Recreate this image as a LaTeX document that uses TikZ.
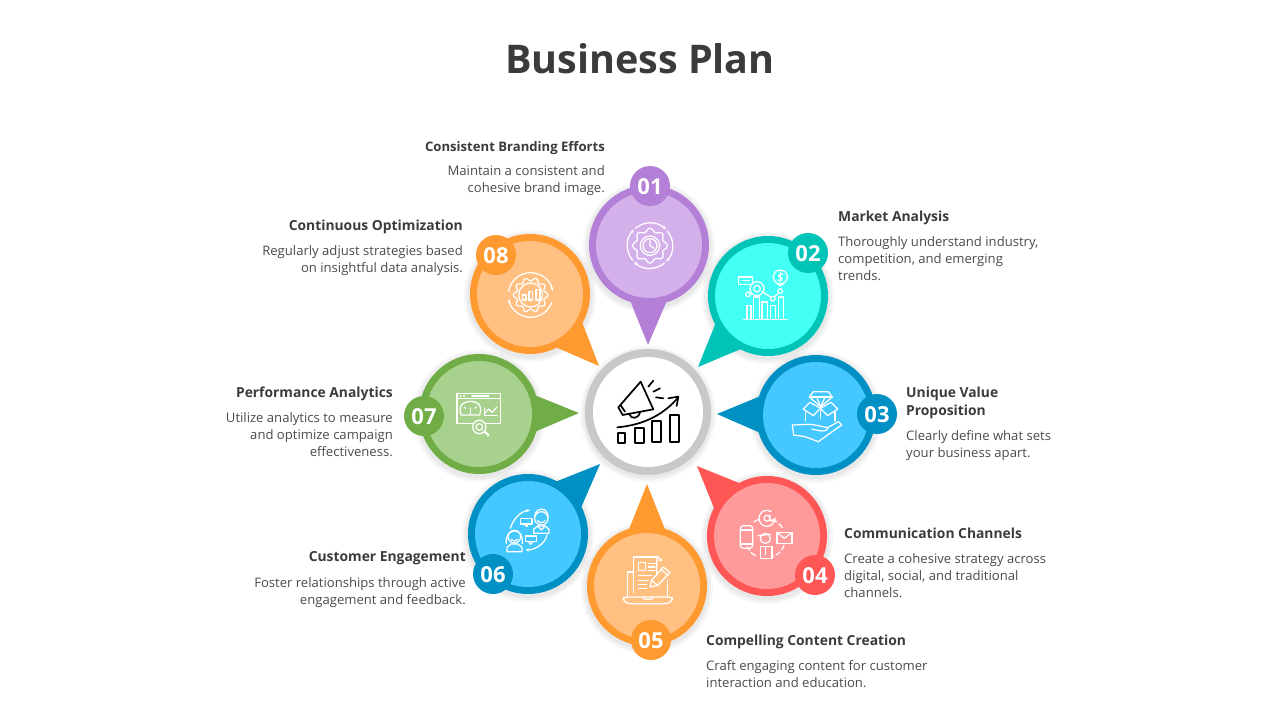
\documentclass[tikz,border=0pt]{standalone}
\usepackage{fontspec}
\setmainfont{Open Sans}
\usetikzlibrary{calc,arrows.meta}
\definecolor{inkgray}{HTML}{3B3B3B}
\definecolor{bodygray}{HTML}{4A4A4A}
\definecolor{purplering}{HTML}{B47FD6}
\definecolor{purplefill}{HTML}{D4B0EA}
\definecolor{tealring}{HTML}{00C4B8}
\definecolor{tealfill}{HTML}{44FFF5}
\definecolor{bluering}{HTML}{0090C4}
\definecolor{bluefill}{HTML}{45C8FF}
\definecolor{redring}{HTML}{FF5656}
\definecolor{redfill}{HTML}{FF9A9A}
\definecolor{orangering}{HTML}{FF9A30}
\definecolor{orangefill}{HTML}{FFC081}
\definecolor{greenring}{HTML}{70AD47}
\definecolor{greenfill}{HTML}{A9D18E}
\definecolor{hubring}{HTML}{C8C8C8}
\tikzset{
	numbadge/.style={circle,minimum size=40pt,inner sep=0pt,text height=17.7pt,text=white,font=\fontsize{22}{22}\selectfont\bfseries},
	headtext/.style={text=inkgray,font=\fontsize{13.85}{18}\selectfont\bfseries,inner sep=0pt},
	bodytext/.style={text=bodygray,font=\fontsize{13.1}{17}\selectfont,inner sep=0pt},
	iconat/.style={shift={#1},x=0.3333pt,y=-0.3333pt,white,line width=1.25pt,line cap=round,line join=round},
	hubpen/.style={shift={#1},x=0.3333pt,y=-0.3333pt,black,line width=1.7pt,line cap=round,line join=round},
}
\def\petal[#1,#2](#3)(#4){
	\coordinate (ctr) at (#3);
	\coordinate (tp) at (#4);
	\foreach \rr in {66,64,62} \fill[black,opacity=.03] ($(ctr)+(0,2)$) circle (\rr);
	\fill[#1] (tp) -- ($(ctr)!59pt!18:(tp)$) -- ($(ctr)!59pt!-18:(tp)$) -- cycle;
	\fill[#1] (ctr) circle (60);
	\fill[#2] (ctr) circle (53);
}
\def\ringarc[#1](#2)(#3:#4:#5){\draw[#1] ($(#2)+(#3:#5)$) arc (#3:#4:#5);}
\def\gearline(#1,#2)(#3)(#4)(#5){\draw[domain=0:360,samples=181,variable=\t] plot ({#1+(#3+#4*cos(#5*\t))*cos(\t)},{#2+(#3+#4*cos(#5*\t))*sin(\t)}) -- cycle;}
\begin{document}
\begin{tikzpicture}[x=1pt,y=-1pt]
	\useasboundingbox (0,0) rectangle (1280,720);
	
	%%%%% TITLE %%%%%
	\node[text=inkgray,font=\fontsize{39.5}{40}\selectfont\bfseries] (title) at (640,58.5) {Business Plan};
	
	%%%%% PETALS %%%%%
	\petal[purplering,purplefill](649,245)(648,345);
	\petal[tealring,tealfill](768,296)(698,367);
	\petal[bluering,bluefill](816,415)(717,414);
	\petal[redring,redfill](767,536)(697,466);
	\petal[orangering,orangefill](647,586)(647,484);
	\petal[bluering,bluefill](528,534)(600,464);
	\petal[greenring,greenfill](479,414)(579,413);
	\petal[orangering,orangefill](530,294)(599,366);
	
	%%%%% HUB %%%%%
	\foreach \rr in {68,66,64} \fill[black,opacity=.03] (648,414) circle (\rr);
	\fill[hubring] (648,412) circle (63);
	\fill[white] (648,412) circle (55);
	\begin{scope}[hubpen={(570,340)}]
		\draw (143,280) rectangle (165,308);
		\draw (195,265) rectangle (222,308);
		\draw (247,243) rectangle (274,307);
		\draw (300,225) rectangle (327,307);
		\draw (142,262) .. controls (220,255) and (280,225) .. (325,172);
		\draw (295,175) -- (325,170) -- (320,198);
		\draw (145,202) -- (212,125) -- (250,208) -- (158,225) -- cycle;
		\draw (152,196) -- (165,215);
		\draw (178,222) .. controls (182,238) and (205,238) .. (210,217);
		\draw (235,140) -- (250,122);
		\draw (250,155) -- (270,145);
		\draw (258,172) -- (280,175);
	\end{scope}
	
	%%%%% ICONS %%%%%
	\begin{scope}[iconat={(620,215)}]
		\ringarc[-{Stealth[length=4pt]}](90,92)(230:315:68);
		\ringarc[-{Stealth[length=4pt]}](90,92)(320:405:68);
		\ringarc[-{Stealth[length=4pt]}](90,92)(50:135:68);
		\ringarc[-{Stealth[length=4pt]}](90,92)(140:225:68);
		\gearline(90,92)(47)(5)(8);
		\draw (90,92) circle (29);
		\draw (90,92) circle (21);
		\draw (90,76) -- (90,92) -- (102,100);
	\end{scope}
	
	\begin{scope}[iconat={(732,262)}]
		\draw (20,45) rectangle (62,67);
		\draw (30,56) -- (52,56);
		\draw (75,80) circle (21);
		\draw (75,80) circle (10);
		\draw (48,97) circle (7);
		\draw (55,97) -- (60,95);
		\draw (90,88) -- (118,107);
		\draw (122,110) circle (7);
		\draw (127,105) -- (140,92);
		\draw (145,87) circle (7);
		\draw (145,45) circle (21);
		\draw (135,64) -- (145,72) -- (155,64);
		\draw (152,37) .. controls (140,32) and (136,44) .. (145,46) .. controls (154,48) and (150,60) .. (138,54);
		\draw (145,30) -- (145,60);
		\draw (35,172) -- (165,172);
		\draw (45,172) |- (57,130) -- (57,172);
		\draw (65,172) |- (82,105) -- (82,172);
		\draw (90,172) |- (107,120) -- (107,172);
		\draw (115,172) |- (130,130) -- (130,172);
		\draw (140,172) |- (155,105) -- (155,172);
	\end{scope}
	
	\begin{scope}[iconat={(785,385)}]
		\draw (85,20) -- (130,20) -- (142,36) -- (107,65) -- (73,36) -- cycle;
		\draw (73,36) -- (142,36);
		\draw (95,36) -- (107,65) -- (120,36);
		\draw (62,80) -- (62,108);
		\draw (150,80) -- (150,108);
		\draw (106,70) -- (106,100);
		\draw (106,70) -- (75,52) -- (55,72) -- (85,92) -- (106,70);
		\draw (106,70) -- (138,52) -- (158,72) -- (128,92) -- (106,70);
		\draw (22,118) -- (26,150);
		\draw (24,120) -- (70,118) .. controls (90,118) and (110,125) .. (128,128) .. controls (130,138) and (115,142) .. (80,132);
		\draw (128,128) -- (160,110) -- (170,120) -- (100,170) -- (60,155) -- (26,150);
	\end{scope}
	
	\begin{scope}[iconat={(732,505)}]
		\draw (105,40) circle (9);
		\draw (114,31) -- (114,44) .. controls (116,50) and (128,50) .. (129,40);
		\ringarc[](105,40)(0:300:24);
		\draw[rounded corners=3pt] (25,62) rectangle (62,130);
		\draw (25,75) -- (62,75);
		\draw (25,117) -- (62,117);
		\draw (135,82) rectangle (180,115);
		\draw (135,82) -- (157,100) -- (180,82);
		\draw (85,100) arc (180:360:15);
		\draw (78,92) -- (115,88);
		\draw (85,100) .. controls (85,120) and (115,120) .. (115,100);
		\draw (85,160) -- (85,125) -- (120,125) -- (120,160) -- cycle;
		\draw (100,125) -- (100,150);
		\ringarc[dash pattern=on 5pt off 3pt](100,100)(-70:-30:60);
		\ringarc[dash pattern=on 5pt off 3pt](100,100)(20:70:60);
		\ringarc[dash pattern=on 5pt off 3pt](100,100)(120:155:60);
		\ringarc[dash pattern=on 5pt off 3pt](100,100)(-125:-105:60);
	\end{scope}
	
	\begin{scope}[iconat={(615,552)}]
		\draw (125,70) -- (125,25) .. controls (125,15) and (135,15) .. (140,25) -- (132,25);
		\draw (130,15) -- (55,15) -- (55,122);
		\draw (70,32) rectangle (92,55);
		\draw (100,35) -- (122,35);
		\draw (100,45) -- (120,45);
		\draw (100,55) -- (120,55);
		\draw (70,70) -- (110,70);
		\draw (70,85) -- (100,85);
		\draw (70,97) -- (95,97);
		\draw (70,110) -- (95,110);
		\draw (105,105) -- (110,85) -- (145,45) -- (165,62) -- (128,100) -- cycle;
		\draw (110,85) -- (128,100);
		\draw (138,52) -- (158,70);
		\draw (55,60) -- (38,60) -- (38,135);
		\draw (158,85) -- (158,135);
		\draw[rounded corners=3pt] (25,135) -- (172,135) -- (172,145) -- (160,155) -- (38,155) -- (25,145) -- cycle;
		\draw (85,135) -- (88,142) -- (110,142) -- (113,135);
	\end{scope}
	
	\begin{scope}[iconat={(497,500)}]
		\draw (133,55) circle (20);
		\draw (113,50) .. controls (115,20) and (152,20) .. (153,50);
		\draw (122,62) .. controls (128,70) and (138,70) .. (144,62);
		\draw (110,100) -- (110,88) -- (122,78) -- (144,78) -- (156,88) -- (156,100) -- cycle;
		\draw (122,78) -- (133,90) -- (144,78);
		\draw (52,110) circle (19);
		\draw (28,130) .. controls (22,85) and (80,75) .. (76,130);
		\draw (42,118) .. controls (47,125) and (57,125) .. (62,118);
		\draw (30,155) -- (30,142) -- (42,132) -- (62,132) -- (75,142) -- (75,155) -- cycle;
		\draw (70,55) rectangle (105,72);
		\draw (80,72) -- (90,80) -- (92,72);
		\draw (85,108) rectangle (118,125);
		\draw (95,125) -- (100,133) -- (108,125);
		\draw[-{Stealth[length=4pt]}] (40,85) .. controls (50,55) and (70,35) .. (100,30);
		\draw[-{Stealth[length=4pt]}] (150,105) .. controls (145,130) and (115,150) .. (85,150);
	\end{scope}
	
	\begin{scope}[iconat={(447,383)}]
		\draw (30,32) rectangle (160,122);
		\draw (30,47) -- (160,47);
		\draw (75,39) -- (125,39);
		\draw (40,39) -- (42,39);
		\draw (50,39) -- (52,39);
		\draw (42,96) .. controls (30,60) and (60,55) .. (70,55) .. controls (85,55) and (110,62) .. (98,96) -- cycle;
		\draw (70,75) -- (70,92);
		\draw (52,72) -- (56,76);
		\draw (88,72) -- (84,76);
		\draw (112,75) -- (112,98) -- (150,98);
		\draw (112,92) -- (125,78) -- (135,88) -- (150,72);
		\fill[greenfill] (97,132) circle (20);
		\draw (97,132) circle (20);
		\draw (97,132) circle (10);
		\draw[line width=2pt] (112,145) -- (125,157);
	\end{scope}
	
	\begin{scope}[iconat={(400,230)}]
		\gearline(392,195)(47)(5)(10);
		\draw (392,195) circle (36);
		\draw (367,195) rectangle (378,210);
		\draw (387,185) rectangle (398,210);
		\draw (408,178) rectangle (420,210);
		\ringarc[-{Stealth[length=4pt]}](392,195)(190:350:67);
		\ringarc[-{Stealth[length=4pt]}](392,195)(20:170:67);
	\end{scope}
	
	%%%%% BADGES %%%%%
	\node[numbadge,fill=purplering] (n1) at (650,186) {01};
	\node[numbadge,fill=tealring] (n2) at (808,253) {02};
	\node[numbadge,fill=bluering] (n3) at (877,414) {03};
	\node[numbadge,fill=redring] (n4) at (815,575) {04};
	\node[numbadge,fill=orangering] (n5) at (651,640) {05};
	\node[numbadge,fill=bluering] (n6) at (493,574) {06};
	\node[numbadge,fill=greenring] (n7) at (424,416) {07};
	\node[numbadge,fill=orangering] (n8) at (496,255) {08};
	
	%%%%% TEXTS %%%%%
	\node[headtext,anchor=east,font=\fontsize{13.1}{18}\selectfont\bfseries] (h1) at (605,148) {Consistent Branding Efforts};
	\node[bodytext,align=right,anchor=north east] (b1) at (605,165) {Maintain a consistent and\\cohesive brand image.};
	
	\node[headtext,anchor=west] (h2) at (838,217.5) {Market Analysis};
	\node[bodytext,align=left,anchor=north west] (b2) at (838,236) {Thoroughly understand industry,\\competition, and emerging\\trends.};
	
	\node[headtext,align=left,anchor=north west] (h3) at (906,387) {Unique Value\\Proposition};
	\node[bodytext,align=left,anchor=north west] (b3) at (906,430) {Clearly define what sets\\your business apart.};
	
	\node[headtext,anchor=west] (h4) at (844,533) {Communication Channels};
	\node[bodytext,align=left,anchor=north west] (b4) at (844,553) {Create a cohesive strategy across\\digital, social, and traditional\\channels.};
	
	\node[headtext,anchor=west] (h5) at (706,641.5) {Compelling Content Creation};
	\node[bodytext,align=left,anchor=north west] (b5) at (706,660) {Craft engaging content for customer\\interaction and education.};
	
	\node[headtext,anchor=east] (h6) at (466,558.5) {Customer Engagement};
	\node[bodytext,align=right,anchor=north east] (b6) at (466,577) {Foster relationships through active\\engagement and feedback.};
	
	\node[headtext,anchor=east] (h7) at (393,393.5) {Performance Analytics};
	\node[bodytext,align=right,anchor=north east] (b7) at (393,412) {Utilize analytics to measure\\and optimize campaign\\effectiveness.};
	
	\node[headtext,anchor=east] (h8) at (463,226.5) {Continuous Optimization};
	\node[bodytext,align=right,anchor=north east] (b8) at (463,245) {Regularly adjust strategies based\\on insightful data analysis.};
\end{tikzpicture}
\end{document}
